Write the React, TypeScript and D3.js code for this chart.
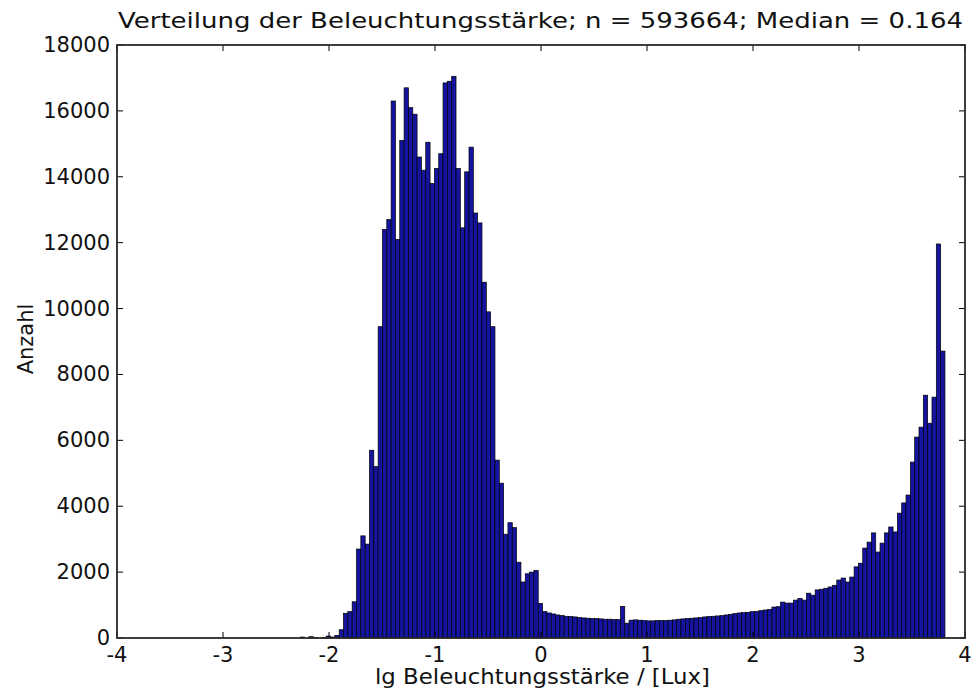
import React from "react";
import * as d3 from "d3";

// Histogram of log10 illuminance: 150 equal-width bins
const binStart = -2.312;
const binWidth = 0.04082;
const counts = [
  0, 30, 0, 40, 10, 0, 20, 60, 30, 80,
  250, 750, 800, 1100, 2700, 3100, 2850, 5700, 5200, 9450,
  12400, 12700, 16300, 12100, 15100, 16700, 16100, 15900, 14600, 14200,
  15050, 13800, 14250, 14700, 16850, 16900, 17050, 14250, 12450, 14150,
  14900, 12900, 12600, 10800, 9900, 9450, 5400, 4700, 3150, 3500,
  3350, 2300, 1700, 1950, 2000, 2050, 1050, 800, 760, 730,
  700, 680, 660, 650, 640, 620, 610, 600, 590, 590,
  580, 570, 570, 560, 560, 960, 450, 540, 550, 540,
  530, 520, 520, 530, 530, 530, 540, 550, 570, 580,
  590, 600, 610, 620, 640, 650, 660, 670, 680, 700,
  720, 740, 760, 770, 780, 800, 810, 830, 850, 870,
  940, 950, 1090, 1060, 1060, 1150, 1200, 1150, 1360, 1300,
  1460, 1480, 1510, 1550, 1600, 1760, 1820, 1700, 1850, 2160,
  2270, 2730, 2910, 3190, 2610, 2880, 3190, 3370, 3220, 3790,
  4100, 4340, 5340, 6100, 6400, 7370, 6520, 7310, 11960, 8710,
];

const xTicks = [-4, -3, -2, -1, 0, 1, 2, 3, 4];
const yTicks = [0, 2000, 4000, 6000, 8000, 10000, 12000, 14000, 16000, 18000];

const titleText = "Verteilung der Beleuchtungsstärke; n = 593664; Median = 0.164";
const xLabel = "lg Beleuchtungsstärke / [Lux]";
const yLabel = "Anzahl";

const W = 976;
const H = 691;
const left = 117;
const right = 965;
const top = 45;
const bottom = 638;
const font = "'DejaVu Sans', sans-serif";
const tickLen = 6;

export default function App() {
  const x = d3.scaleLinear().domain([-4, 4]).range([left, right]);
  const y = d3.scaleLinear().domain([0, 18000]).range([bottom, top]);

  const bins = counts.map((c, i) => ({
    x0: binStart + i * binWidth,
    x1: binStart + (i + 1) * binWidth,
    c,
  }));

  return (
    <svg
      width={W}
      height={H}
      style={{ position: "absolute", left: 0, top: 0, background: "#fff" }}
      fontFamily={font}
    >
      <g>
        {bins
          .filter((b) => b.c > 0)
          .map((b, i) => (
            <rect
              key={i}
              x={x(b.x0)}
              y={y(b.c)}
              width={x(b.x1) - x(b.x0)}
              height={bottom - y(b.c)}
              fill="#1414a0"
              stroke="#000"
              strokeWidth={0.7}
            />
          ))}
      </g>

      {/* inward ticks on all four sides */}
      <g stroke="#000" strokeWidth={1}>
        {xTicks.map((t) => (
          <g key={"x" + t}>
            <line x1={x(t)} x2={x(t)} y1={bottom} y2={bottom - tickLen} />
            <line x1={x(t)} x2={x(t)} y1={top} y2={top + tickLen} />
          </g>
        ))}
        {yTicks.map((t) => (
          <g key={"y" + t}>
            <line x1={left} x2={left + tickLen} y1={y(t)} y2={y(t)} />
            <line x1={right} x2={right - tickLen} y1={y(t)} y2={y(t)} />
          </g>
        ))}
      </g>

      <rect
        x={left}
        y={top}
        width={right - left}
        height={bottom - top}
        fill="none"
        stroke="#2a2a2a"
        strokeWidth={1.8}
      />

      <g fontSize={21} fill="#111">
        {xTicks.map((t) => (
          <text key={"xl" + t} x={x(t)} y={662} textAnchor="middle">
            {t}
          </text>
        ))}
        {yTicks.map((t) => (
          <text key={"yl" + t} x={110} y={y(t) + 7} textAnchor="end">
            {t}
          </text>
        ))}
      </g>

      <text
        x={118}
        y={28}
        fontSize={22}
        fill="#111"
        textLength={845}
        lengthAdjust="spacingAndGlyphs"
      >
        {titleText}
      </text>
      <text
        x={375}
        y={684}
        fontSize={21}
        fill="#111"
        textLength={335}
        lengthAdjust="spacingAndGlyphs"
      >
        {xLabel}
      </text>
      <text
        transform={`translate(33, 339) rotate(-90)`}
        textAnchor="middle"
        fontSize={21}
        fill="#111"
      >
        {yLabel}
      </text>
    </svg>
  );
}
